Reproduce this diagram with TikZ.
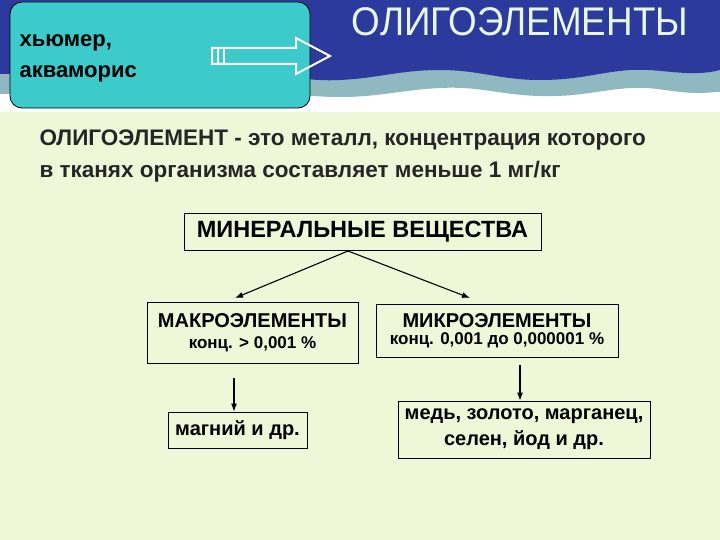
\documentclass[tikz,border=0pt]{standalone}
\usepackage{fontspec}
\setmainfont{Liberation Sans}
\usetikzlibrary{arrows.meta}
\begin{document}
\begin{tikzpicture}[x=1pt,y=-1pt,
  box/.style={draw=black,fill=none,line width=0.8pt,align=center,inner sep=0pt},
  arr/.style={-{Latex[length=8pt,width=6pt]},line width=1.1pt}]
\definecolor{bg}{HTML}{EEF8D8}
\definecolor{ban}{HTML}{2B3A9C}
\definecolor{wav}{HTML}{8FB8C0}
\definecolor{cy}{HTML}{3CCACA}
\definecolor{tt}{HTML}{E8F8E0}
\useasboundingbox (0,0) rectangle (720,540);
\fill[bg] (0,0) rectangle (720,540);
\fill[white] (0,0) rectangle (720,112);
\fill[wav] (0,0) -- (720,0) -- (720,92) -- (715,92)
  .. controls (680,96) and (660,86) .. (630,88)
  .. controls (600,90) and (580,97) .. (540,96)
  .. controls (500,95) and (480,86) .. (440,88)
  .. controls (400,90) and (380,97) .. (340,97)
  .. controls (300,97) and (280,90) .. (240,90)
  .. controls (200,90) and (180,97) .. (140,97)
  .. controls (100,97) and (60,92) .. (0,94) -- cycle;
\fill[ban] (0,0) -- (720,0) -- (720,70)
  .. controls (690,78) and (660,68) .. (630,70)
  .. controls (600,72) and (580,80) .. (540,80)
  .. controls (500,80) and (480,70) .. (440,70)
  .. controls (400,70) and (380,78) .. (340,80)
  .. controls (300,82) and (280,72) .. (240,72)
  .. controls (200,72) and (180,80) .. (140,80)
  .. controls (100,80) and (60,72) .. (0,74) -- cycle;
\node[font=\fontsize{40}{40}\selectfont, text=tt, xscale=0.92] (title) at (520,22) {ОЛИГОЭЛЕМЕНТЫ};
\node[draw=black,fill=cy,rounded corners=12pt,minimum width=300pt,minimum height=106pt,line width=0.8pt] (cbox) at (160,55) {};
\node[font=\bfseries\fontsize{22}{31}\selectfont,align=left,anchor=west] (cname) at (16,58) {хьюмер,\\акваморис};
\draw[white,line width=2pt] (212,48) -- (296,48) -- (296,38) -- (330,56) -- (296,74) -- (296,64) -- (212,64) -- cycle;
\draw[white,line width=1.5pt] (218,48) -- (218,64) (224,48) -- (224,64);
\node[font=\bfseries\fontsize{22.5}{32}\selectfont,text=black!85,align=left,anchor=west] (def) at (36,156) {ОЛИГОЭЛЕМЕНТ - это металл, концентрация которого\\в тканях организма составляет меньше 1 мг/кг};
\node[box,minimum width=357pt,minimum height=37pt,font=\bfseries\fontsize{23.5}{24}\selectfont] (min) at (362.5,231.5) {МИНЕРАЛЬНЫЕ ВЕЩЕСТВА};
\node[box,minimum width=211pt,minimum height=61pt] (mak) at (252.5,332.5) {\bfseries\fontsize{20}{20}\selectfont МАКРОЭЛЕМЕНТЫ\\[8pt]\bfseries\fontsize{17}{17}\selectfont конц. > 0,001 \%};
\node[box,minimum width=242pt,minimum height=53pt] (mik) at (497,330.5) {\bfseries\fontsize{20}{20}\selectfont МИКРОЭЛЕМЕНТЫ\\[4pt]\bfseries\fontsize{17}{17}\selectfont конц. 0,001 до 0,000001 \%};
\node[box,minimum width=139pt,minimum height=36pt,font=\bfseries\fontsize{20}{20}\selectfont] (mag) at (237.5,430) {магний и др.};
\node[box,minimum width=252pt,minimum height=57pt,font=\bfseries\fontsize{20}{26}\selectfont] (med) at (524,429.5) {медь, золото, марганец,\\селен, йод и др.};
\coordinate (s) at (348,251);
\coordinate (ml) at (235,298);
\coordinate (mr) at (470,298);
\draw[arr] (s) -- (ml);
\draw[arr] (s) -- (mr);
\draw[arr] (234,378) -- (mag.north -| 234,0);
\draw[arr] (520,365) -- (med.north -| 520,0);
\end{tikzpicture}
\end{document}
